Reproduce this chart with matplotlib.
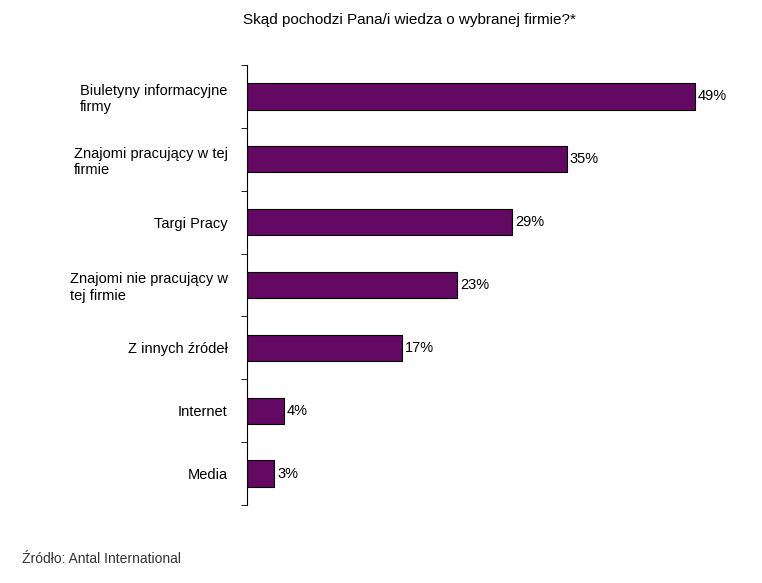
import matplotlib.pyplot as plt

categories = ['Biuletyny informacyjne\nfirmy', 'Znajomi pracujący w tej\nfirmie', 'Targi Pracy',
              'Znajomi nie pracujący w\ntej firmie', 'Z innych źródeł', 'Internet', 'Media']
values = [49, 35, 29, 23, 17, 4, 3]

plt.rcParams['font.family'] = ['Liberation Sans', 'DejaVu Sans']
fig = plt.figure(figsize=(7.62, 5.83), dpi=100)
ax = fig.add_axes([247 / 762, 1 - 505 / 583, (750 - 247) / 762, 440 / 583])

pos = list(range(len(categories)))
ax.barh(pos, values, height=0.42, color='#630863', edgecolor='black', linewidth=0.8)
for p, v in zip(pos, values):
    ax.text(v + 0.3, p, f'{v}%', va='center', ha='left', fontsize=10.5)

ax.set_xlim(0, 55)
ax.set_ylim(len(categories) - 0.5, -0.5)
ax.set_yticks(pos)
ax.set_yticklabels(categories, fontsize=10.5, ha='right', multialignment='left')
ax.tick_params(axis='y', length=0, pad=14)
ax.set_yticks([p + 0.5 for p in range(-1, len(categories))], minor=True)
ax.tick_params(axis='y', which='minor', length=4)
ax.set_xticks([])
for s in ['top', 'right', 'bottom']:
    ax.spines[s].set_visible(False)

fig.text(243 / 762, 1 - 20 / 583, 'Skąd pochodzi Pana/i wiedza o wybranej firmie?*',
         ha='left', va='center', fontsize=11)
fig.text(22 / 762, 1 - 559 / 583, 'Źródło: Antal International', ha='left', va='center',
         fontsize=10, color='#333333')

fig.savefig('out.png', dpi=100)
